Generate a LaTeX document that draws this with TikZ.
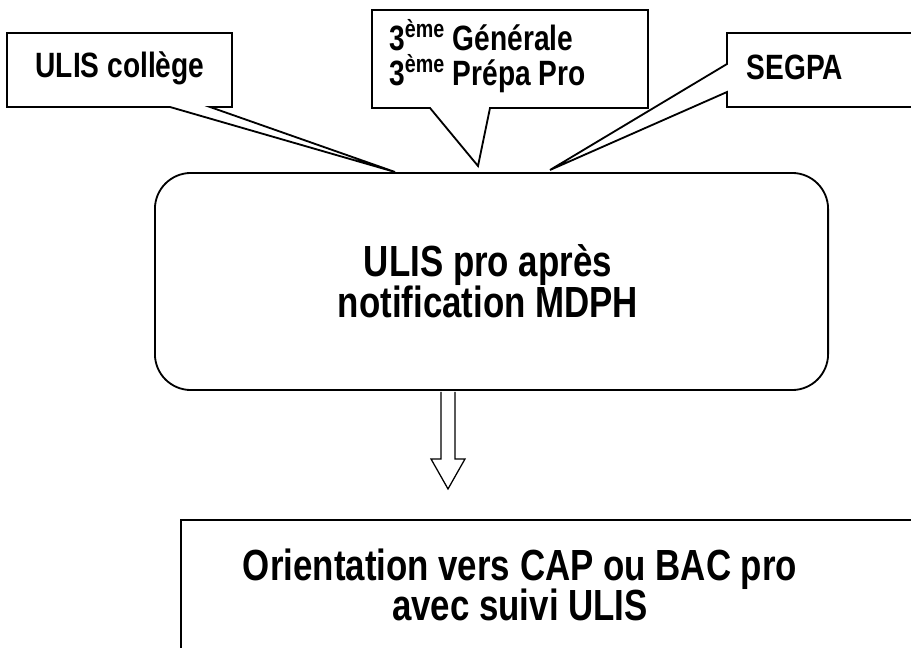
\documentclass[tikz,border=0pt]{standalone}
\usepackage{fontspec}
\setmainfont[FakeStretch=0.8]{Liberation Sans}
\usetikzlibrary{positioning}
\tikzset{lbl/.style = {font=\bfseries\fontsize{25}{25}\selectfont, align=left, inner sep=0}}
\tikzset{big/.style = {font=\bfseries\fontsize{31}{29}\selectfont, align=center, inner sep=0}}
\tikzset{outline/.style = {draw, line width=1.3pt, line join=miter, fill=white}}

\begin{document}
\begin{tikzpicture}[x=0.025cm, y=-0.025cm]
      \clip (0,0) rectangle (911,648);

      \node [outline, rounded corners=0.9cm, minimum width=16.825cm, minimum height=5.425cm] (main) at (491.5,281.5) {};
      \node [big] (mtext) at (488,281) {ULIS pro après\\notification MDPH};

      \draw [outline] (7,33) -- (232,33) -- (232,107) -- (210,107) -- (395,172) -- (170,107) -- (7,107) -- cycle;
      \node [lbl] (ulis) at (120,68) {ULIS collège};

      \draw [outline] (372,10) -- (648,10) -- (648,108) -- (490,108) -- (478,166) -- (430,108) -- (372,108) -- cycle;
      \node [lbl, anchor=west] (troisieme) at (389,56) {3\textsuperscript{ème} Générale\\3\textsuperscript{ème} Prépa Pro};

      \draw [outline] (930,33) -- (727,33) -- (727,64) -- (550,170) -- (727,92) -- (727,107) -- (930,107);
      \node [lbl] (segpa) at (795,67) {SEGPA};

      \draw [outline, line width=0.9pt] (main.south -| 448,0) ++(-7,1) -- ++(0,67) -- ++(-10,0) -- ++(17,30) -- ++(17,-30) -- ++(-10,0) -- ++(0,-67);

      \draw [line width=1.8pt] (181,660) -- (181,520) -- (930,520);
      \node [big] (orient) at (520,585) {Orientation vers CAP ou BAC pro\\avec suivi ULIS};
    \end{tikzpicture}
\end{document}
